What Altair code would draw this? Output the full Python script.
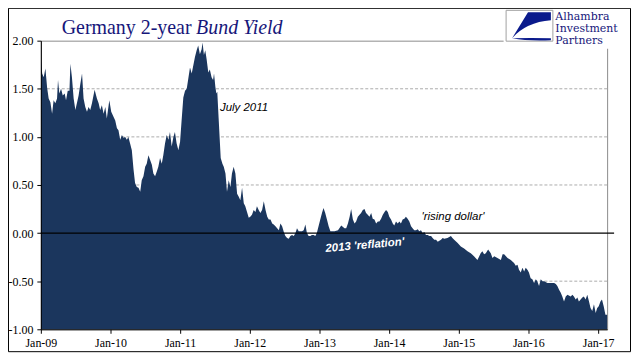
import altair as alt
import pandas as pd

# ---------------- data ----------------
DATES = [
    "2009-01-02", "2009-01-08", "2009-01-16", "2009-01-25", "2009-02-03", "2009-02-11", "2009-02-20",
    "2009-03-01", "2009-03-09", "2009-03-18", "2009-03-27", "2009-04-01", "2009-04-08", "2009-04-17",
    "2009-04-26", "2009-05-06", "2009-05-13", "2009-05-22", "2009-05-31", "2009-06-05", "2009-06-13",
    "2009-06-22", "2009-07-01", "2009-07-09", "2009-07-18", "2009-07-27", "2009-08-05", "2009-08-13",
    "2009-08-22", "2009-08-31", "2009-09-08", "2009-09-17", "2009-09-26", "2009-10-10", "2009-10-22",
    "2009-10-31", "2009-11-08", "2009-11-17", "2009-11-26", "2009-12-05", "2009-12-13", "2009-12-26",
    "2010-01-05", "2010-01-17", "2010-01-26", "2010-02-04", "2010-02-12", "2010-02-21", "2010-03-02",
    "2010-03-10", "2010-03-19", "2010-03-28", "2010-04-05", "2010-04-14", "2010-04-23", "2010-05-02",
    "2010-05-10", "2010-05-19", "2010-05-28", "2010-06-06", "2010-06-14", "2010-06-23", "2010-07-02",
    "2010-07-10", "2010-07-19", "2010-07-28", "2010-08-06", "2010-08-14", "2010-08-23", "2010-09-01",
    "2010-09-09", "2010-09-18", "2010-09-27", "2010-10-05", "2010-10-14", "2010-10-23", "2010-11-01",
    "2010-11-09", "2010-11-18", "2010-11-27", "2010-12-05", "2010-12-14", "2010-12-23",
    "2011-01-01", "2011-01-09", "2011-01-18", "2011-01-27", "2011-02-05", "2011-02-22", "2011-03-03",
    "2011-03-11", "2011-03-20", "2011-03-29", "2011-04-06", "2011-04-15", "2011-04-24", "2011-04-29",
    "2011-05-06", "2011-05-13", "2011-05-20", "2011-05-29", "2011-06-06", "2011-06-15", "2011-06-23",
    "2011-06-28", "2011-07-05", "2011-07-10", "2011-07-15", "2011-07-22", "2011-07-28", "2011-08-02",
    "2011-08-11", "2011-08-18", "2011-08-27", "2011-09-04", "2011-09-13", "2011-09-22", "2011-09-30",
    "2011-10-09", "2011-10-18", "2011-10-27", "2011-11-04", "2011-11-13", "2011-11-22", "2011-12-01",
    "2011-12-09", "2011-12-18", "2011-12-27",
    "2012-01-04", "2012-01-13", "2012-01-22", "2012-01-31", "2012-02-08", "2012-02-17", "2012-02-26",
    "2012-03-06", "2012-03-15", "2012-03-24", "2012-04-02", "2012-04-10", "2012-04-19", "2012-04-28",
    "2012-05-06", "2012-05-15", "2012-05-24", "2012-06-02", "2012-06-10", "2012-06-19", "2012-06-28",
    "2012-07-06", "2012-07-15", "2012-07-24", "2012-08-01", "2012-08-10", "2012-08-19", "2012-08-28",
    "2012-09-05", "2012-09-14", "2012-09-23", "2012-10-01", "2012-10-10", "2012-10-19", "2012-10-27",
    "2012-11-05", "2012-11-14", "2012-11-22", "2012-12-01", "2012-12-10", "2012-12-18", "2012-12-27",
    "2013-01-05", "2013-01-14", "2013-01-22", "2013-01-31", "2013-02-09", "2013-02-18", "2013-02-27",
    "2013-03-08", "2013-03-21", "2013-04-08", "2013-04-25", "2013-05-12", "2013-05-21", "2013-05-30",
    "2013-06-08", "2013-06-16", "2013-06-25", "2013-07-04", "2013-07-12", "2013-07-21", "2013-07-30",
    "2013-08-07", "2013-08-16", "2013-08-25", "2013-09-02", "2013-09-11", "2013-09-20", "2013-09-29",
    "2013-10-07", "2013-10-16", "2013-10-25", "2013-11-03", "2013-11-11", "2013-11-20", "2013-11-29",
    "2013-12-08", "2013-12-16", "2013-12-25",
    "2014-01-02", "2014-01-11", "2014-01-20", "2014-01-28", "2014-02-06", "2014-02-15", "2014-02-24",
    "2014-03-04", "2014-03-13", "2014-03-22", "2014-03-30", "2014-04-08", "2014-04-17", "2014-04-26",
    "2014-05-04", "2014-05-13", "2014-05-22", "2014-05-31", "2014-06-08", "2014-06-17", "2014-06-26",
    "2014-07-05", "2014-07-13", "2014-07-22", "2014-07-31", "2014-08-09", "2014-08-17", "2014-08-26",
    "2014-09-04", "2014-09-13", "2014-09-30", "2014-10-09", "2014-10-17", "2014-11-03", "2014-11-21",
    "2014-11-29", "2014-12-08", "2014-12-25",
    "2015-01-12", "2015-01-29", "2015-02-16", "2015-03-05", "2015-03-22", "2015-04-09", "2015-04-26",
    "2015-05-05", "2015-05-14", "2015-05-23", "2015-06-04", "2015-06-18", "2015-06-27", "2015-07-06",
    "2015-07-23", "2015-08-10", "2015-08-19", "2015-08-27", "2015-09-14", "2015-10-01", "2015-10-18",
    "2015-10-27", "2015-11-05", "2015-11-13", "2015-11-22", "2015-12-01", "2015-12-10", "2015-12-18",
    "2015-12-27",
    "2016-01-04", "2016-01-13", "2016-01-22", "2016-01-31", "2016-02-09", "2016-02-17", "2016-02-26",
    "2016-03-06", "2016-03-15", "2016-03-24", "2016-04-10", "2016-04-28", "2016-05-15", "2016-05-24",
    "2016-06-01", "2016-06-10", "2016-06-19", "2016-06-27", "2016-07-06", "2016-07-15", "2016-07-24",
    "2016-08-10", "2016-08-19", "2016-08-27", "2016-09-05", "2016-09-14", "2016-09-22", "2016-10-01",
    "2016-10-10", "2016-10-18", "2016-10-27", "2016-11-05", "2016-11-14", "2016-11-22", "2016-12-01",
    "2016-12-10", "2016-12-19", "2016-12-27",
    "2017-01-04", "2017-01-13", "2017-01-21", "2017-01-30", "2017-02-08", "2017-02-17",
]

YIELDS = [
    1.80, 1.66, 1.62, 1.71, 1.51, 1.40, 1.36,
    1.24, 1.38, 1.35, 1.40, 1.59, 1.45, 1.50,
    1.43, 1.45, 1.38, 1.48, 1.48, 1.76, 1.62,
    1.40, 1.28, 1.35, 1.43, 1.55, 1.66, 1.40,
    1.31, 1.26, 1.31, 1.28, 1.35, 1.49, 1.40,
    1.35, 1.28, 1.33, 1.24, 1.31, 1.19, 1.38,
    1.26, 1.21, 1.17, 1.09, 1.07, 0.97, 1.02,
    0.99, 1.00, 0.97, 1.00, 0.93, 0.86, 0.66,
    0.52, 0.48, 0.47, 0.43, 0.55, 0.59, 0.69,
    0.72, 0.81, 0.76, 0.71, 0.62, 0.59, 0.64,
    0.69, 0.78, 0.72, 0.81, 0.93, 1.02, 0.97,
    1.05, 0.90, 1.00, 1.05, 0.93, 0.86,
    0.95, 1.17, 1.41, 1.48, 1.50, 1.72, 1.66,
    1.74, 1.83, 1.90, 1.95, 1.86, 1.91, 1.98,
    1.85, 1.90, 1.81, 1.67, 1.70, 1.62, 1.59,
    1.66, 1.52, 1.45, 1.47, 1.20, 0.97, 0.78,
    0.72, 0.69, 0.62, 0.43, 0.55, 0.48, 0.62,
    0.69, 0.62, 0.41, 0.38, 0.34, 0.47, 0.31,
    0.28, 0.22, 0.16,
    0.17, 0.19, 0.24, 0.22, 0.28, 0.24, 0.21,
    0.24, 0.33, 0.24, 0.17, 0.14, 0.14, 0.10,
    0.09, 0.07, 0.05, 0.03, 0.10, 0.07, 0.01,
    -0.03, -0.05, -0.06, -0.03, -0.02, -0.03, 0.00,
    0.05, 0.02, 0.02, 0.02, 0.03, 0.09, 0.00,
    -0.03, -0.03, -0.02, -0.02, -0.03, 0.00, 0.07,
    0.14, 0.21, 0.26, 0.21, 0.14, 0.07, 0.02,
    0.02, 0.02, 0.03, 0.08, 0.05, 0.05, 0.10,
    0.17, 0.25, 0.14, 0.10, 0.12, 0.17, 0.19,
    0.21, 0.24, 0.25, 0.21, 0.19, 0.17, 0.21,
    0.15, 0.14, 0.10, 0.12, 0.12, 0.15, 0.19,
    0.22, 0.24, 0.22,
    0.17, 0.14, 0.10, 0.08, 0.12, 0.10, 0.12,
    0.10, 0.14, 0.15, 0.17, 0.15, 0.12, 0.07,
    0.05, 0.03, 0.03, 0.04, 0.02, 0.03, 0.00,
    0.01, -0.02, -0.02, -0.03, -0.03, -0.05, -0.07,
    -0.07, -0.09, -0.07, -0.05, -0.06, -0.05, -0.03,
    -0.05, -0.07, -0.10,
    -0.14, -0.16, -0.19, -0.21, -0.24, -0.28, -0.21,
    -0.19, -0.22, -0.21, -0.17, -0.21, -0.26, -0.24,
    -0.26, -0.28, -0.22, -0.22, -0.26, -0.28, -0.31,
    -0.34, -0.33, -0.38, -0.41, -0.36, -0.40, -0.36,
    -0.38,
    -0.41, -0.47, -0.48, -0.52, -0.48, -0.50, -0.55,
    -0.48, -0.50, -0.50, -0.52, -0.52, -0.52, -0.53,
    -0.55, -0.59, -0.62, -0.66, -0.71, -0.66, -0.64,
    -0.66, -0.64, -0.66, -0.69, -0.67, -0.71, -0.69,
    -0.67, -0.66, -0.69, -0.64, -0.71, -0.78, -0.81,
    -0.74, -0.83, -0.78,
    -0.76, -0.71, -0.69, -0.76, -0.85, -0.85,
]

X_TICK_YEARS = [2009, 2010, 2011, 2012, 2013, 2014, 2015, 2016, 2017]
Y_TICKS = [-1.0, -0.5, 0.0, 0.5, 1.0, 1.5, 2.0]
GRID_VALUES = [-0.5, 0.5, 1.0, 1.5]

ANNOT_TEXT = ["July 2011", "2013 'reflation'", "'rising dollar'"]
ANNOT_DATE = ["2011-07-29", "2013-08-27", "2014-06-20"]
ANNOT_VALUE = [1.265, -0.13, 0.131]

TITLE_PLAIN = "Germany 2-year"
TITLE_ITALIC = "Bund Yield"
LOGO_LINES = ["Alhambra", "Investment", "Partners"]

# ---------------- styling ----------------
NAVY = "#1B365D"
TITLE_BLUE = "#16167A"
LOGO_BLUE = "#0A1A8C"
SERIF = "Liberation Serif"
SANS = "Liberation Sans"
W, H = 569, 290

LOGO_PATH = ("M22,2 L45,2 L45,10 Q20,12 6,28 Z "
             "M6,28 Q22,31 45,30 L45,28 Q24,27.5 6,28 Z")

df = pd.DataFrame({"date": DATES, "yield": YIELDS})
grid_df = pd.DataFrame({"yield": GRID_VALUES})
zero_df = pd.DataFrame({"yield": [0.0]})
one = pd.DataFrame({"k": [0]})

x_scale = alt.Scale(domain=[alt.DateTime(year=2009, month=1, date=1),
                            alt.DateTime(year=2017, month=2, date=17)], nice=False)
y_scale = alt.Scale(domain=[-1, 2], nice=False, zero=False)

x_axis = alt.Axis(
    values=[alt.DateTime(year=y, month=1, date=1) for y in X_TICK_YEARS],
    labelExpr="timeFormat(datum.value, '%b-%y')",
    title=None, grid=False, domainColor="black", domainWidth=1,
    tickColor="black", tickSize=4, labelPadding=4, labelFlush=False, labelOverlap=False,
    labelFont=SERIF, labelFontSize=12, labelColor="black", zindex=1,
)
y_axis = alt.Axis(
    values=Y_TICKS,
    labelExpr="datum.value < 0 ? '-' + format(-datum.value, '.2f') : format(datum.value, '.2f')",
    title=None, grid=False, domainColor="black", domainWidth=1,
    tickColor="black", tickSize=4, labelPadding=4, labelOverlap=False,
    labelFont=SERIF, labelFontSize=12, labelColor="black", zindex=1,
)

X_ENC = alt.X("date:T", scale=x_scale, axis=x_axis)
Y_ENC = alt.Y("yield:Q", scale=y_scale, axis=y_axis)

grid = alt.Chart(grid_df).mark_rule(color="#ababab", strokeDash=[3, 2], strokeWidth=1).encode(
    y=Y_ENC
)

area = alt.Chart(df).mark_area(color=NAVY, interpolate="linear", opacity=1).encode(
    x=X_ENC,
    y=Y_ENC,
    y2=alt.datum(-1),
)

zero = alt.Chart(zero_df).mark_rule(color="black", strokeWidth=1.3).encode(
    y=Y_ENC,
    x=alt.value(0), x2=alt.value(576),
)


def annot(i, **kw):
    d = pd.DataFrame({"date": [ANNOT_DATE[i]], "yield": [ANNOT_VALUE[i]], "label": [ANNOT_TEXT[i]]})
    return alt.Chart(d).mark_text(font=SANS, fontStyle="italic", **kw).encode(
        x=X_ENC, y=Y_ENC, text="label:N",
    )


a1 = annot(0, fontSize=11.5, color="black", align="left", baseline="alphabetic")
a2 = annot(1, fontSize=11.5, color="white", fontWeight="bold", align="center", baseline="middle", angle=355)
a3 = annot(2, fontSize=11.5, color="black", align="left", baseline="alphabetic")

title1 = alt.Chart(one).mark_text(text=TITLE_PLAIN, font=SERIF, fontSize=20, color=TITLE_BLUE,
                                  align="left", baseline="alphabetic").encode(
    x=alt.value(21), y=alt.value(-7))
title2 = alt.Chart(one).mark_text(text=TITLE_ITALIC, font=SERIF, fontSize=20, fontStyle="italic",
                                  color=TITLE_BLUE, align="left", baseline="alphabetic").encode(
    x=alt.value(156), y=alt.value(-7))

logo_bg = alt.Chart(one).mark_rect(fill="white", strokeWidth=0).encode(
    x=alt.value(465), x2=alt.value(592), y=alt.value(-32), y2=alt.value(8))
logo_box = alt.Chart(one).mark_rect(fill="white", stroke="#a0a0a0", strokeWidth=1).encode(
    x=alt.value(467.5), x2=alt.value(514.5), y=alt.value(-30.5), y2=alt.value(0.5))
logo_mark = alt.Chart(one).mark_point(shape=LOGO_PATH, size=4, filled=True, fill=LOGO_BLUE,
                                      opacity=1, strokeWidth=0).encode(
    x=alt.value(467.5), y=alt.value(-30.5))
logo_text = [
    alt.Chart(one).mark_text(text=t, font="DejaVu Serif", fontSize=11, color=TITLE_BLUE,
                             align="left", baseline="alphabetic").encode(
        x=alt.value(517), y=alt.value(yy))
    for t, yy in zip(LOGO_LINES, [-21, -9, 3])
]

border = alt.Chart(one).mark_rect(fillOpacity=0, stroke="black", strokeWidth=1).encode(
    x=alt.value(-32.5), x2=alt.value(592.5), y=alt.value(-32.5), y2=alt.value(312.5))

chart = alt.layer(
    grid, area, zero, a1, a2, a3, title1, title2,
    logo_bg, logo_box, logo_mark, *logo_text, border,
).properties(
    width=W, height=H,
    autosize=alt.AutoSizeParams(type="none"),
    padding={"left": 33, "top": 32, "right": 26, "bottom": 23},
    background="white",
).configure_view(stroke="#8c8c8c", strokeWidth=1)

chart.save("out.html", embed_options={"renderer": "svg", "actions": False})
